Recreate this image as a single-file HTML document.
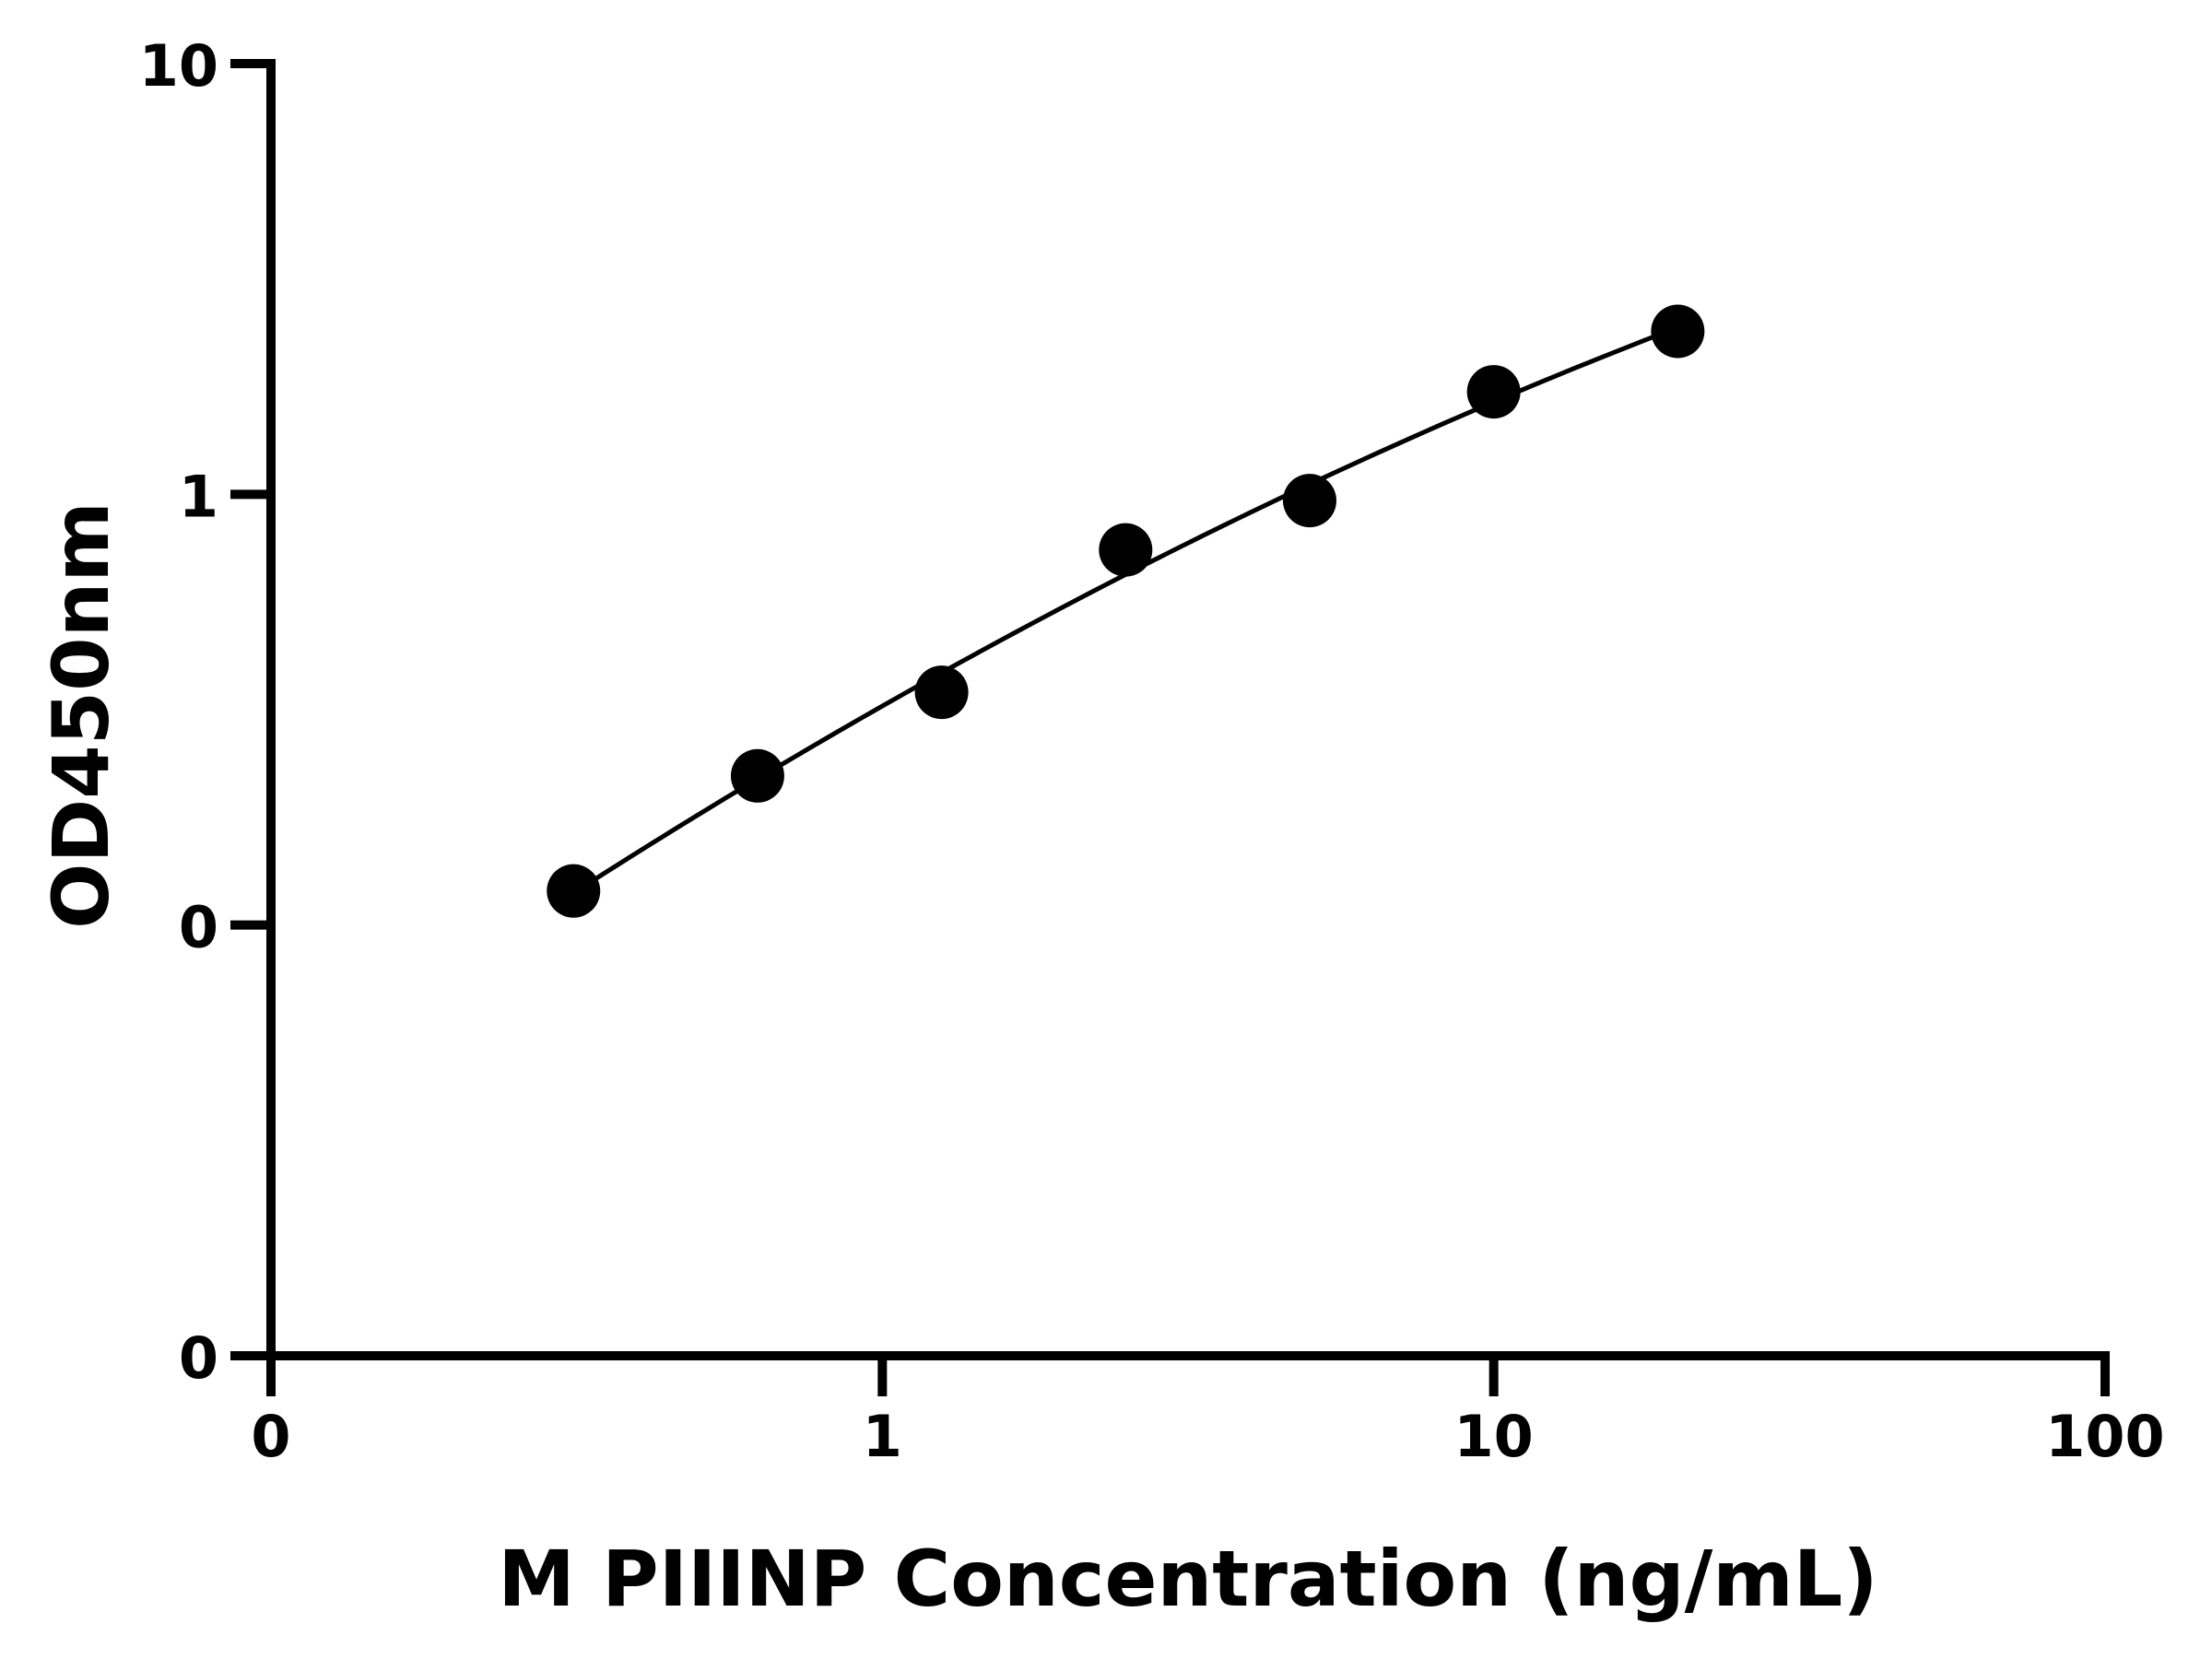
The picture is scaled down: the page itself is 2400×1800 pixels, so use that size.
<!DOCTYPE html>
<html><head><meta charset="utf-8">
<style>
html,body{margin:0;padding:0;background:#fff;}
svg{display:block;font-family:"DejaVu Sans","Liberation Sans",sans-serif;font-weight:bold;}
</style></head>
<body>
<svg id="chart" width="2400" height="1800" viewBox="0 0 2400 1800" xmlns="http://www.w3.org/2000/svg">
<g id="axes"></g>
<g id="curve"></g>
<g id="points"></g>
<text x="1289" y="1742" font-size="84" text-anchor="middle">M PIIINP Concentration (ng/mL)</text>
<text x="0" y="0" font-size="84" text-anchor="middle" transform="translate(117,776) rotate(-90)">OD450nm</text>
</svg>
<script>
const concentrations = [0.3125, 0.625, 1.25, 2.5, 5, 10, 20];
const odValues = [0.12, 0.222, 0.347, 0.743, 0.967, 1.73, 2.39];
const xTickValues = [0.1, 1, 10, 100];
const xTickLabels = ["0", "1", "10", "100"];
const yTickValues = [0.01, 0.1, 1, 10];
const yTickLabels = ["0", "0", "1", "10"];

const NS = "http://www.w3.org/2000/svg";
const X0 = 294, X1 = 2284, Y0 = 1471, Y1 = 69;
const xs = v => X0 + (Math.log10(v) + 1) / 3 * (X1 - X0);
const ys = v => Y0 - (Math.log10(v) + 2) / 3 * (Y0 - Y1);
function mk(tag, attrs, parent) {
  const e = document.createElementNS(NS, tag);
  for (const k in attrs) e.setAttribute(k, attrs[k]);
  parent.appendChild(e);
  return e;
}
const axes = document.getElementById("axes");
let l = mk("line", {x1: X0, y1: Y1 - 5, x2: X0, y2: Y0 + 5, stroke: "#000", "stroke-width": 10}, axes);


l = mk("line", {x1: X0 - 5, y1: Y0, x2: X1 + 5, y2: Y0, stroke: "#000", "stroke-width": 10}, axes);


xTickValues.forEach((v, i) => {
  const x = xs(v);
  const t = mk("line", {x1: x, y1: Y0, x2: x, y2: Y0 + 44, stroke: "#000", "stroke-width": 10}, axes);
  
  
  const tx = mk("text", {x: x, y: 1580, "font-size": 62, "text-anchor": "middle"}, axes);
  tx.textContent = xTickLabels[i];
  
  
});
yTickValues.forEach((v, i) => {
  const y = ys(v);
  const t = mk("line", {x1: X0 - 44, y1: y, x2: X0, y2: y, stroke: "#000", "stroke-width": 10}, axes);
  
  
  const tx = mk("text", {x: 237, y: y + 24, "font-size": 62, "text-anchor": "end"}, axes);
  tx.textContent = yTickLabels[i];
  
  
});
const lx = concentrations.map(Math.log10), ly = odValues.map(Math.log10);
function solve3(A, b) {
  const M = A.map((r, i) => r.concat([b[i]]));
  for (let i = 0; i < 3; i++) {
    let p = i; for (let r = i + 1; r < 3; r++) if (Math.abs(M[r][i]) > Math.abs(M[p][i])) p = r;
    [M[i], M[p]] = [M[p], M[i]];
    for (let r = 0; r < 3; r++) if (r !== i) { const f = M[r][i] / M[i][i]; for (let c = i; c < 4; c++) M[r][c] -= f * M[i][c]; }
  }
  return M.map((r, i) => r[3] / r[i]);
}
const S = k => lx.reduce((s, x) => s + Math.pow(x, k), 0);
const T = k => lx.reduce((s, x, i) => s + Math.pow(x, k) * ly[i], 0);
const coef = solve3([[S(0), S(1), S(2)], [S(1), S(2), S(3)], [S(2), S(3), S(4)]], [T(0), T(1), T(2)]);
let d = "";
const a = lx[0], b = lx[lx.length - 1];
for (let i = 0; i <= 100; i++) {
  const x = a + (b - a) * i / 100;
  const y = coef[0] + coef[1] * x + coef[2] * x * x;
  d += (i ? "L" : "M") + xs(Math.pow(10, x)).toFixed(2) + "," + ys(Math.pow(10, y)).toFixed(2);
}
const path = mk("path", {d: d, fill: "none", stroke: "#000", "stroke-width": 5}, document.getElementById("curve"));


const pts = document.getElementById("points");
concentrations.forEach((c, i) => {
  const p = mk("circle", {cx: xs(c), cy: ys(odValues[i]), r: 29, fill: "#000"}, pts);
  
  
});
</script>
</body></html>
